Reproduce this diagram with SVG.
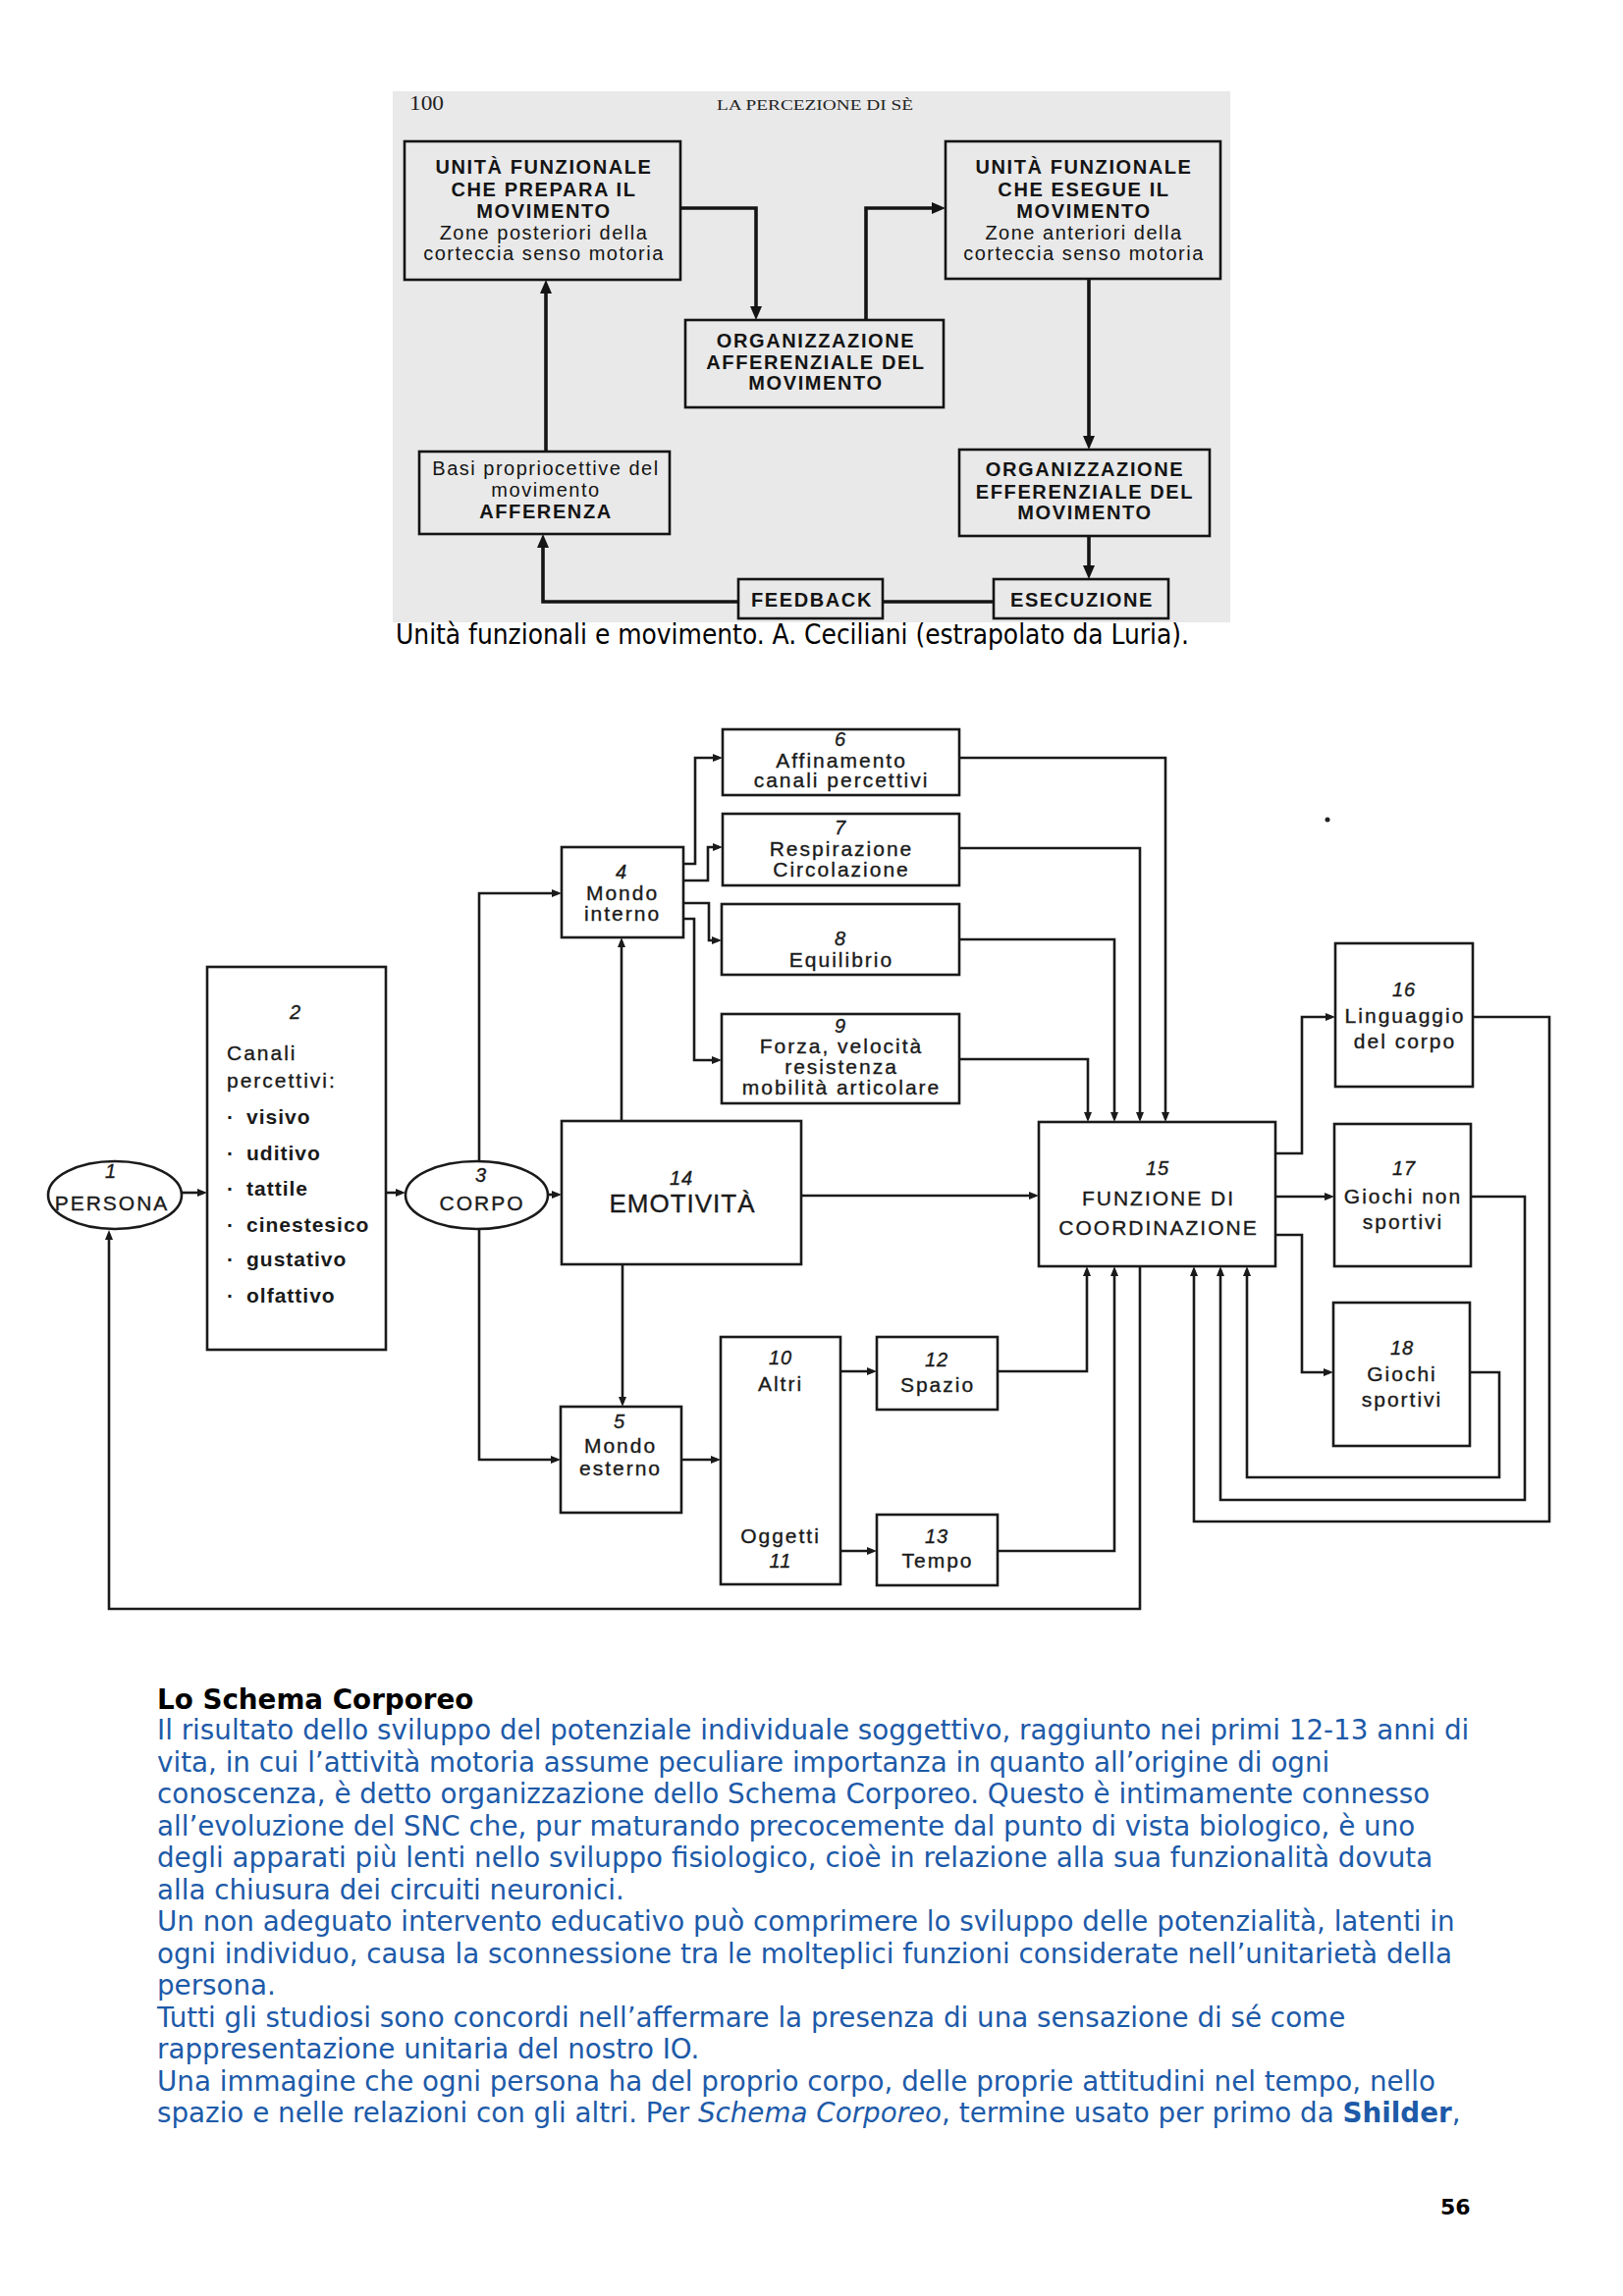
<svg xmlns="http://www.w3.org/2000/svg" width="1653" height="2339" viewBox="0 0 1653 2339">
<defs>
<style>
.scan{fill:#e9e9e9}
.tb{fill:none;stroke:#141414;stroke-width:2.6}
.tl{fill:none;stroke:#141414;stroke-width:3.6}
.tt{font-family:"Liberation Sans",Arial,sans-serif;font-size:20px;fill:#141414;text-anchor:middle;letter-spacing:1.5px}
.bd{font-weight:bold;letter-spacing:1.6px}
.hd{font-family:"Liberation Serif","Times New Roman",serif;fill:#222}
.bb{fill:#fff;stroke:#1a1a1a;stroke-width:2.6}
.bl{fill:none;stroke:#1a1a1a;stroke-width:2.6}
.bt{font-family:"Liberation Sans",Arial,sans-serif;font-size:21px;fill:#1a1a1a;stroke:#1a1a1a;stroke-width:0.35;text-anchor:middle;letter-spacing:2px}
.lt{text-anchor:start}
.li{font-weight:bold;letter-spacing:1px;stroke-width:0}
.num{font-style:italic;font-size:20px;letter-spacing:1px}
.big{font-size:26px;letter-spacing:1px}
.body{font-family:"DejaVu Sans",Verdana,sans-serif;font-size:27.75px;fill:#1d5aa8}
.head{font-family:"DejaVu Sans",Verdana,sans-serif;font-size:27.75px;font-weight:bold;fill:#000}
.cap{font-family:"DejaVu Sans Condensed","DejaVu Sans",sans-serif;font-size:27.6px;fill:#000}
</style>
<marker id="ah" markerUnits="userSpaceOnUse" markerWidth="14" markerHeight="12" refX="9" refY="6" orient="auto"><path d="M0,0 L14,6 L0,12 z" fill="#141414"/></marker>
<marker id="as" markerUnits="userSpaceOnUse" markerWidth="10" markerHeight="8" refX="6" refY="4" orient="auto"><path d="M0,0 L10,4 L0,8 z" fill="#1a1a1a"/></marker>
</defs>
<rect x="0" y="0" width="1653" height="2339" fill="#fff"/>

<!-- ===== Top diagram (scanned page) ===== -->
<g id="scan-page">
<rect class="scan" x="400" y="93" width="853" height="541"/>
<text class="hd" x="417" y="112" font-size="20" textLength="35" lengthAdjust="spacingAndGlyphs">100</text>
<text class="hd" x="730" y="112" font-size="14" textLength="200" lengthAdjust="spacingAndGlyphs">LA PERCEZIONE DI SÈ</text>
</g>

<g id="top-connectors">
<path class="tl" d="M693,212 H770 V321" marker-end="url(#ah)"/>
<path class="tl" d="M882,326 V212 H958" marker-end="url(#ah)"/>
<path class="tl" d="M1109,284 V453" marker-end="url(#ah)"/>
<path class="tl" d="M1109,546 V585" marker-end="url(#ah)"/>
<path class="tl" d="M1012,613 H899"/>
<path class="tl" d="M752,613 H553 V549" marker-end="url(#ah)"/>
<path class="tl" d="M556,460 V290" marker-end="url(#ah)"/>
</g>

<g id="t-prepara">
<rect class="tb" x="412" y="144" width="281" height="141"/>
<text class="tt bd" x="554" y="177">UNITÀ FUNZIONALE</text>
<text class="tt bd" x="554" y="199.5">CHE PREPARA IL</text>
<text class="tt bd" x="554" y="221.5">MOVIMENTO</text>
<text class="tt" x="554" y="243.5">Zone posteriori della</text>
<text class="tt" x="554" y="265">corteccia senso motoria</text>
</g>
<g id="t-afferenziale">
<rect class="tb" x="698" y="326" width="263" height="89"/>
<text class="tt bd" x="831" y="354">ORGANIZZAZIONE</text>
<text class="tt bd" x="831" y="376">AFFERENZIALE DEL</text>
<text class="tt bd" x="831" y="397">MOVIMENTO</text>
</g>
<g id="t-esegue">
<rect class="tb" x="963" y="144" width="280" height="140"/>
<text class="tt bd" x="1104" y="177">UNITÀ FUNZIONALE</text>
<text class="tt bd" x="1104" y="199.5">CHE ESEGUE IL</text>
<text class="tt bd" x="1104" y="221.5">MOVIMENTO</text>
<text class="tt" x="1104" y="243.5">Zone anteriori della</text>
<text class="tt" x="1104" y="265">corteccia senso motoria</text>
</g>
<g id="t-efferenziale">
<rect class="tb" x="977" y="458" width="255" height="88"/>
<text class="tt bd" x="1105" y="485">ORGANIZZAZIONE</text>
<text class="tt bd" x="1105" y="507.5">EFFERENZIALE DEL</text>
<text class="tt bd" x="1105" y="529">MOVIMENTO</text>
</g>
<g id="t-esecuzione">
<rect class="tb" x="1012" y="590" width="178" height="40"/>
<text class="tt bd" x="1102" y="618">ESECUZIONE</text>
</g>
<g id="t-feedback">
<rect class="tb" x="752" y="590" width="147" height="40"/>
<text class="tt bd" x="827" y="618">FEEDBACK</text>
</g>
<g id="t-afferenza">
<rect class="tb" x="427" y="460" width="255" height="84"/>
<text class="tt" x="556" y="484">Basi propriocettive del</text>
<text class="tt" x="556" y="506">movimento</text>
<text class="tt bd" x="556" y="528">AFFERENZA</text>
</g>

<text class="cap" x="403" y="656" textLength="808" lengthAdjust="spacingAndGlyphs">Unità funzionali e movimento. A. Ceciliani (estrapolato da Luria).</text>

<!-- ===== Bottom diagram ===== -->
<g id="connectors">
<path class="bl" d="M185,1215 H207" marker-end="url(#as)"/>
<path class="bl" d="M393,1215 H409" marker-end="url(#as)"/>
<path class="bl" d="M558,1217 H568" marker-end="url(#as)"/>
<path class="bl" d="M488,1183 V910 H568" marker-end="url(#as)"/>
<path class="bl" d="M488,1252 V1487 H567" marker-end="url(#as)"/>
<path class="bl" d="M633,1142 V959" marker-end="url(#as)"/>
<path class="bl" d="M634,1288 V1429" marker-end="url(#as)"/>
<path class="bl" d="M696,880 H708 V772 H732" marker-end="url(#as)"/>
<path class="bl" d="M696,897 H721 V863 H732" marker-end="url(#as)"/>
<path class="bl" d="M696,920 H722 V958 H731" marker-end="url(#as)"/>
<path class="bl" d="M696,936 H707 V1080 H731" marker-end="url(#as)"/>
<path class="bl" d="M977,772 H1187 V1139" marker-end="url(#as)"/>
<path class="bl" d="M977,864 H1161 V1139" marker-end="url(#as)"/>
<path class="bl" d="M977,957 H1135 V1139" marker-end="url(#as)"/>
<path class="bl" d="M977,1079 H1108 V1139" marker-end="url(#as)"/>
<path class="bl" d="M816,1218 H1054" marker-end="url(#as)"/>
<path class="bl" d="M694,1487 H730" marker-end="url(#as)"/>
<path class="bl" d="M856,1397 H889" marker-end="url(#as)"/>
<path class="bl" d="M856,1580 H889" marker-end="url(#as)"/>
<path class="bl" d="M1016,1397 H1107 V1294" marker-end="url(#as)"/>
<path class="bl" d="M1016,1580 H1135 V1294" marker-end="url(#as)"/>
<path class="bl" d="M1161,1290 V1639 H111 V1257" marker-end="url(#as)"/>
<path class="bl" d="M1299,1175 H1326 V1036 H1356" marker-end="url(#as)"/>
<path class="bl" d="M1299,1219 H1355" marker-end="url(#as)"/>
<path class="bl" d="M1299,1258 H1326 V1398 H1354" marker-end="url(#as)"/>
<path class="bl" d="M1500,1036 H1578 V1550 H1216 V1294" marker-end="url(#as)"/>
<path class="bl" d="M1498,1219 H1553 V1528 H1243 V1294" marker-end="url(#as)"/>
<path class="bl" d="M1497,1398 H1527 V1505 H1270 V1294" marker-end="url(#as)"/>
</g>

<g id="n1">
<ellipse class="bb" cx="117" cy="1217.5" rx="68" ry="34.5"/>
<text class="bt num" x="113" y="1200">1</text>
<text class="bt" x="114" y="1233">PERSONA</text>
</g>
<g id="n2">
<rect class="bb" x="211" y="985" width="182" height="390"/>
<text class="bt num" x="301" y="1038">2</text>
<text class="bt lt" x="231" y="1080">Canali</text>
<text class="bt lt" x="231" y="1108">percettivi:</text>
<text class="bt lt li" x="231" y="1145">·</text><text class="bt lt li" x="251" y="1145">visivo</text>
<text class="bt lt li" x="231" y="1182">·</text><text class="bt lt li" x="251" y="1182">uditivo</text>
<text class="bt lt li" x="231" y="1218">·</text><text class="bt lt li" x="251" y="1218">tattile</text>
<text class="bt lt li" x="231" y="1255">·</text><text class="bt lt li" x="251" y="1255">cinestesico</text>
<text class="bt lt li" x="231" y="1290">·</text><text class="bt lt li" x="251" y="1290">gustativo</text>
<text class="bt lt li" x="231" y="1327">·</text><text class="bt lt li" x="251" y="1327">olfattivo</text>
</g>
<g id="n3">
<ellipse class="bb" cx="485.5" cy="1217.5" rx="72.5" ry="34.5"/>
<text class="bt num" x="490" y="1204">3</text>
<text class="bt" x="491" y="1233">CORPO</text>
</g>
<g id="n4">
<rect class="bb" x="572" y="863" width="124" height="92"/>
<text class="bt num" x="633" y="895">4</text>
<text class="bt" x="634" y="917">Mondo</text>
<text class="bt" x="634" y="938">interno</text>
</g>
<g id="n5">
<rect class="bb" x="571" y="1433" width="123" height="108"/>
<text class="bt num" x="631" y="1455">5</text>
<text class="bt" x="632" y="1480">Mondo</text>
<text class="bt" x="632" y="1503">esterno</text>
</g>
<g id="n6">
<rect class="bb" x="736" y="743" width="241" height="67"/>
<text class="bt num" x="856" y="760">6</text>
<text class="bt" x="857" y="782">Affinamento</text>
<text class="bt" x="857" y="802">canali percettivi</text>
</g>
<g id="n7">
<rect class="bb" x="736" y="829" width="241" height="73"/>
<text class="bt num" x="856" y="850">7</text>
<text class="bt" x="857" y="872">Respirazione</text>
<text class="bt" x="857" y="893">Circolazione</text>
</g>
<g id="n8">
<rect class="bb" x="735" y="921" width="242" height="72"/>
<text class="bt num" x="856" y="963">8</text>
<text class="bt" x="857" y="985">Equilibrio</text>
</g>
<g id="n9">
<rect class="bb" x="735" y="1033" width="242" height="91"/>
<text class="bt num" x="856" y="1052">9</text>
<text class="bt" x="857" y="1073">Forza, velocità</text>
<text class="bt" x="857" y="1094">resistenza</text>
<text class="bt" x="857" y="1115">mobilità articolare</text>
</g>
<g id="n10-11">
<rect class="bb" x="734" y="1362" width="122" height="252"/>
<text class="bt num" x="795" y="1390">10</text>
<text class="bt" x="795" y="1417">Altri</text>
<text class="bt" x="795" y="1572">Oggetti</text>
<text class="bt num" x="795" y="1597">11</text>
</g>
<g id="n12">
<rect class="bb" x="893" y="1362" width="123" height="74"/>
<text class="bt num" x="954" y="1392">12</text>
<text class="bt" x="955" y="1418">Spazio</text>
</g>
<g id="n13">
<rect class="bb" x="893" y="1543" width="123" height="72"/>
<text class="bt num" x="954" y="1572">13</text>
<text class="bt" x="955" y="1597">Tempo</text>
</g>
<g id="n14">
<rect class="bb" x="572" y="1142" width="244" height="146"/>
<text class="bt num" x="694" y="1207">14</text>
<text class="bt big" x="695" y="1235">EMOTIVITÀ</text>
</g>
<g id="n15">
<rect class="bb" x="1058" y="1143" width="241" height="147"/>
<text class="bt num" x="1179" y="1197">15</text>
<text class="bt" x="1180" y="1228">FUNZIONE DI</text>
<text class="bt" x="1180" y="1258">COORDINAZIONE</text>
</g>
<g id="n16">
<rect class="bb" x="1360" y="961" width="140" height="146"/>
<text class="bt num" x="1430" y="1015">16</text>
<text class="bt" x="1431" y="1042">Linguaggio</text>
<text class="bt" x="1431" y="1068">del corpo</text>
</g>
<g id="n17">
<rect class="bb" x="1359" y="1145" width="139" height="145"/>
<text class="bt num" x="1430" y="1197">17</text>
<text class="bt" x="1429" y="1226">Giochi non</text>
<text class="bt" x="1429" y="1252">sportivi</text>
</g>
<g id="n18">
<rect class="bb" x="1358" y="1327" width="139" height="146"/>
<text class="bt num" x="1428" y="1380">18</text>
<text class="bt" x="1428" y="1407">Giochi</text>
<text class="bt" x="1428" y="1433">sportivi</text>
</g>
<circle cx="1352" cy="835" r="2.5" fill="#222"/>

<!-- ===== Body text ===== -->
<g id="body-text">
<text class="head" x="160" y="1741">Lo Schema Corporeo</text>
<text class="body" x="160" y="1772">Il risultato dello sviluppo del potenziale individuale soggettivo, raggiunto nei primi 12-13 anni di</text>
<text class="body" x="160" y="1804.5">vita, in cui l’attività motoria assume peculiare importanza in quanto all’origine di ogni</text>
<text class="body" x="160" y="1837">conoscenza, è detto organizzazione dello Schema Corporeo. Questo è intimamente connesso</text>
<text class="body" x="160" y="1869.5">all’evoluzione del SNC che, pur maturando precocemente dal punto di vista biologico, è uno</text>
<text class="body" x="160" y="1902">degli apparati più lenti nello sviluppo fisiologico, cioè in relazione alla sua funzionalità dovuta</text>
<text class="body" x="160" y="1934.5">alla chiusura dei circuiti neuronici.</text>
<text class="body" x="160" y="1967">Un non adeguato intervento educativo può comprimere lo sviluppo delle potenzialità, latenti in</text>
<text class="body" x="160" y="1999.5">ogni individuo, causa la sconnessione tra le molteplici funzioni considerate nell’unitarietà della</text>
<text class="body" x="160" y="2032">persona.</text>
<text class="body" x="160" y="2064.5">Tutti gli studiosi sono concordi nell’affermare la presenza di una sensazione di sé come</text>
<text class="body" x="160" y="2097">rappresentazione unitaria del nostro IO.</text>
<text class="body" x="160" y="2129.5">Una immagine che ogni persona ha del proprio corpo, delle proprie attitudini nel tempo, nello</text>
<text class="body" x="160" y="2162">spazio e nelle relazioni con gli altri. Per <tspan font-style="italic">Schema Corporeo</tspan>, termine usato per primo da <tspan font-weight="bold">Shilder</tspan>,</text>
</g>
<text x="1467" y="2256" font-family="DejaVu Sans,Verdana,sans-serif" font-size="22" font-weight="bold" fill="#000">56</text>
</svg>
